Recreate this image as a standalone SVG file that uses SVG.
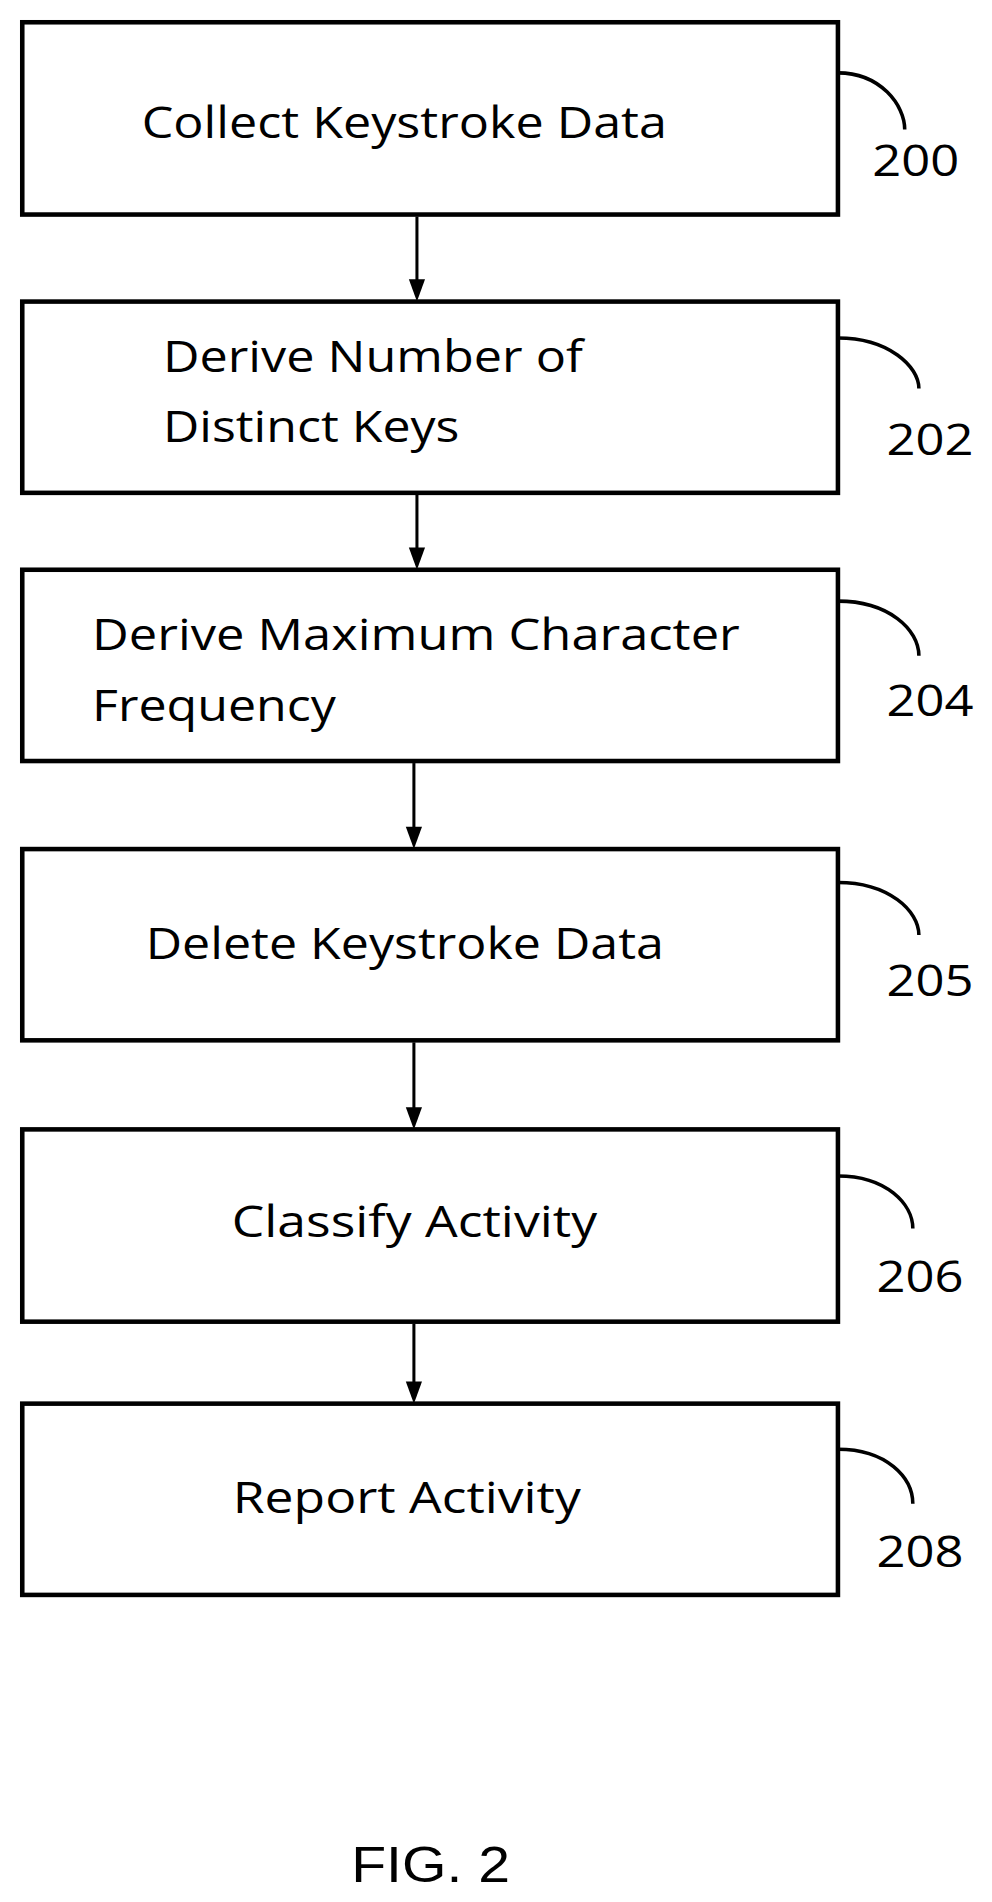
<svg xmlns="http://www.w3.org/2000/svg" width="992" height="1902" viewBox="0 0 992 1902">
<style>
.b{fill:#fff;stroke:#000;stroke-width:4.5}
.t{font-family:"Open Sans","Liberation Sans",sans-serif;font-size:44px;fill:#000}
.c{fill:none;stroke:#000;stroke-width:3.5}
.l{stroke:#000;stroke-width:3}
</style>
<g transform="scale(1.012)">
<g id="connectors">
<line class="l" x1="412" y1="214" x2="412" y2="280"/><path d="M404,276L420,276L412,298Z"/>
<line class="l" x1="412" y1="489" x2="412" y2="545"/><path d="M404,541L420,541L412,563Z"/>
<line class="l" x1="409" y1="754" x2="409" y2="821"/><path d="M401,817L417,817L409,839Z"/>
<line class="l" x1="409" y1="1030" x2="409" y2="1098"/><path d="M401,1094L417,1094L409,1116Z"/>
<line class="l" x1="409" y1="1308" x2="409" y2="1369"/><path d="M401,1365L417,1365L409,1387Z"/>
</g>
<g id="n200"><rect class="b" x="22" y="22" width="806" height="190"/><text class="t" x="140" y="136" textLength="519" lengthAdjust="spacingAndGlyphs">Collect Keystroke Data</text><path class="c" d="M828,72C870,72 894,104 894,128"/><text class="t" x="862" y="174" textLength="86" lengthAdjust="spacingAndGlyphs">200</text></g>
<g id="n202"><rect class="b" x="22" y="298" width="806" height="189"/><text class="t" x="161" y="368" textLength="415" lengthAdjust="spacingAndGlyphs">Derive Number of</text><text class="t" x="161" y="437" textLength="293" lengthAdjust="spacingAndGlyphs">Distinct Keys</text><path class="c" d="M828,334C878,334 908,362 908,384"/><text class="t" x="876" y="450" textLength="86" lengthAdjust="spacingAndGlyphs">202</text></g>
<g id="n204"><rect class="b" x="22" y="563" width="806" height="189"/><text class="t" x="91" y="642" textLength="640" lengthAdjust="spacingAndGlyphs">Derive Maximum Character</text><text class="t" x="91" y="712" textLength="241" lengthAdjust="spacingAndGlyphs">Frequency</text><path class="c" d="M828,594C878,594 908,622 908,648"/><text class="t" x="876" y="708" textLength="86" lengthAdjust="spacingAndGlyphs">204</text></g>
<g id="n205"><rect class="b" x="22" y="839" width="806" height="189"/><text class="t" x="144" y="948" textLength="512" lengthAdjust="spacingAndGlyphs">Delete Keystroke Data</text><path class="c" d="M828,872C878,872 908,900 908,924"/><text class="t" x="876" y="984" textLength="86" lengthAdjust="spacingAndGlyphs">205</text></g>
<g id="n206"><rect class="b" x="22" y="1116" width="806" height="190"/><text class="t" x="229" y="1222" textLength="361" lengthAdjust="spacingAndGlyphs">Classify Activity</text><path class="c" d="M828,1162C876,1162 902,1190 902,1214"/><text class="t" x="866" y="1277" textLength="86" lengthAdjust="spacingAndGlyphs">206</text></g>
<g id="n208"><rect class="b" x="22" y="1387" width="806" height="189"/><text class="t" x="230" y="1495" textLength="344" lengthAdjust="spacingAndGlyphs">Report Activity</text><path class="c" d="M828,1432C876,1432 902,1460 902,1486"/><text class="t" x="866" y="1548" textLength="86" lengthAdjust="spacingAndGlyphs">208</text></g>
<text x="347" y="1860" font-family="Liberation Sans,Arial,sans-serif" font-size="50" textLength="157" lengthAdjust="spacingAndGlyphs">FIG. 2</text>
</g>
</svg>
